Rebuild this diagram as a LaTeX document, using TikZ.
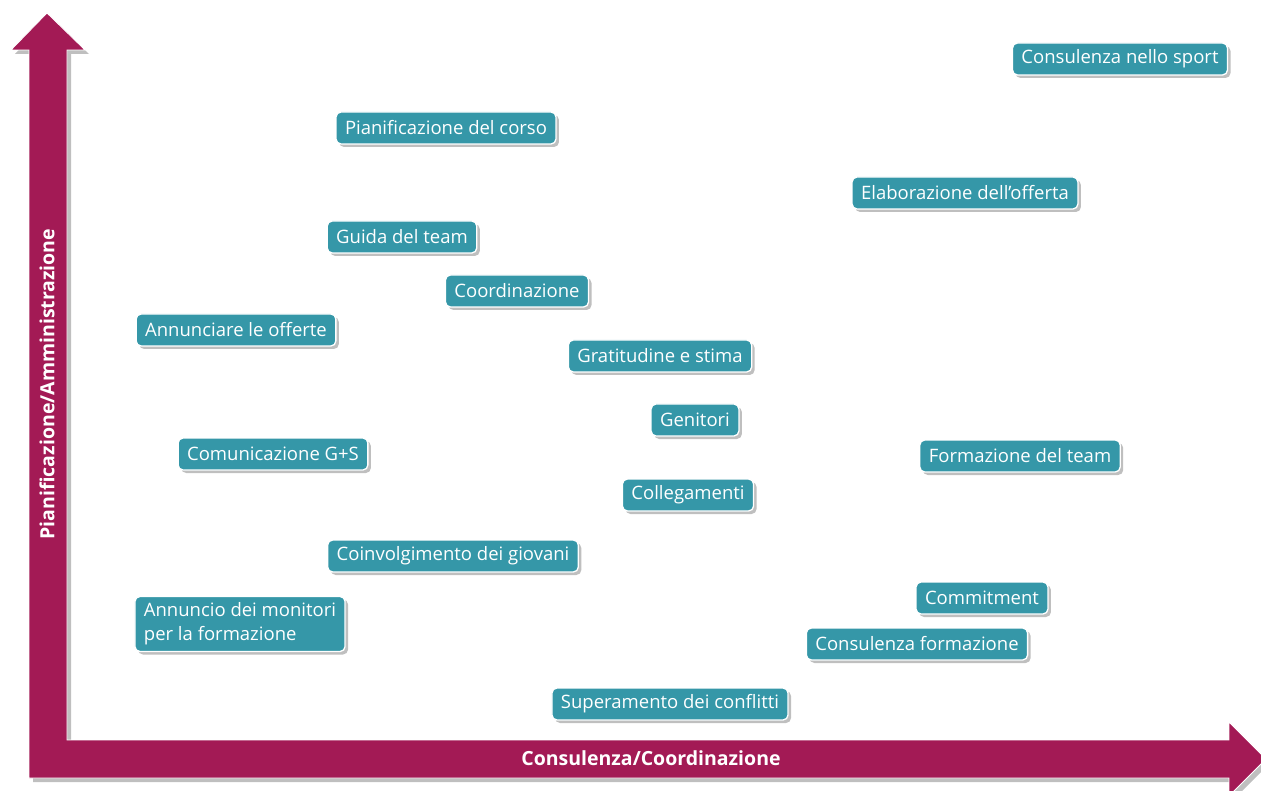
\documentclass[tikz,border=0pt]{standalone}
\usepackage{fontspec}
\setmainfont{Open Sans}
\usetikzlibrary{shadows}
\definecolor{maroon}{HTML}{A31A55}
\definecolor{tealbox}{HTML}{3597A8}
\tikzset{
  lab/.style={draw=white, line width=1.3pt, fill=tealbox, rounded corners=5pt,
    text=white, font=\fontsize{18.5}{24}\selectfont, inner xsep=9pt, inner ysep=0pt,
    minimum height=32pt, anchor=center,
    drop shadow={shadow xshift=3pt, shadow yshift=-3pt, opacity=0.25, fill=black}},
  axis/.style={fill=maroon, draw=white, line width=0.8pt,
    drop shadow={shadow xshift=4pt, shadow yshift=-4pt, opacity=0.25, fill=black}},
  axlab/.style={text=white, font=\fontsize{19.5}{22}\selectfont\bfseries}
}
\begin{document}
\begin{tikzpicture}[x=1pt,y=-1pt]
\useasboundingbox (0,0) rectangle (1261,791);
\path[axis] (29,778) -- (29,50) -- (11,50) -- (47,13) -- (85,50) -- (67,50)
  -- (67,740) -- (1229,740) -- (1229,722) -- (1266,759) -- (1229,796)
  -- (1229,778) -- cycle;
\node[axlab, rotate=90] (ylab) at (47,384) {Pianificazione/Amministrazione};
\node[axlab] (xlab) at (651,758) {Consulenza/Coordinazione};

\node[lab] (n1) at (1120,59) {Consulenza nello sport};
\node[lab] (n2) at (446,128) {Pianificazione del corso};
\node[lab] (n3) at (965,193) {Elaborazione dell’offerta};
\node[lab] (n4) at (402,237) {Guida del team};
\node[lab] (n5) at (517,291) {Coordinazione};
\node[lab] (n6) at (236,330) {Annunciare le offerte};
\node[lab] (n7) at (660,356) {Gratitudine e stima};
\node[lab] (n8) at (695,420) {Genitori};
\node[lab] (n9) at (273,454) {Comunicazione G+S};
\node[lab] (n10) at (1020,456) {Formazione del team};
\node[lab] (n11) at (688,495) {Collegamenti};
\node[lab] (n12) at (453,556) {Coinvolgimento dei giovani};
\node[lab] (n13) at (982,598) {Commitment};
\node[lab, align=left, minimum height=55pt, inner ysep=3pt] (n14) at (240,624) {Annuncio dei monitori\\per la formazione};
\node[lab] (n15) at (917,644) {Consulenza formazione};
\node[lab] (n16) at (670,704) {Superamento dei conflitti};
\end{tikzpicture}
\end{document}
